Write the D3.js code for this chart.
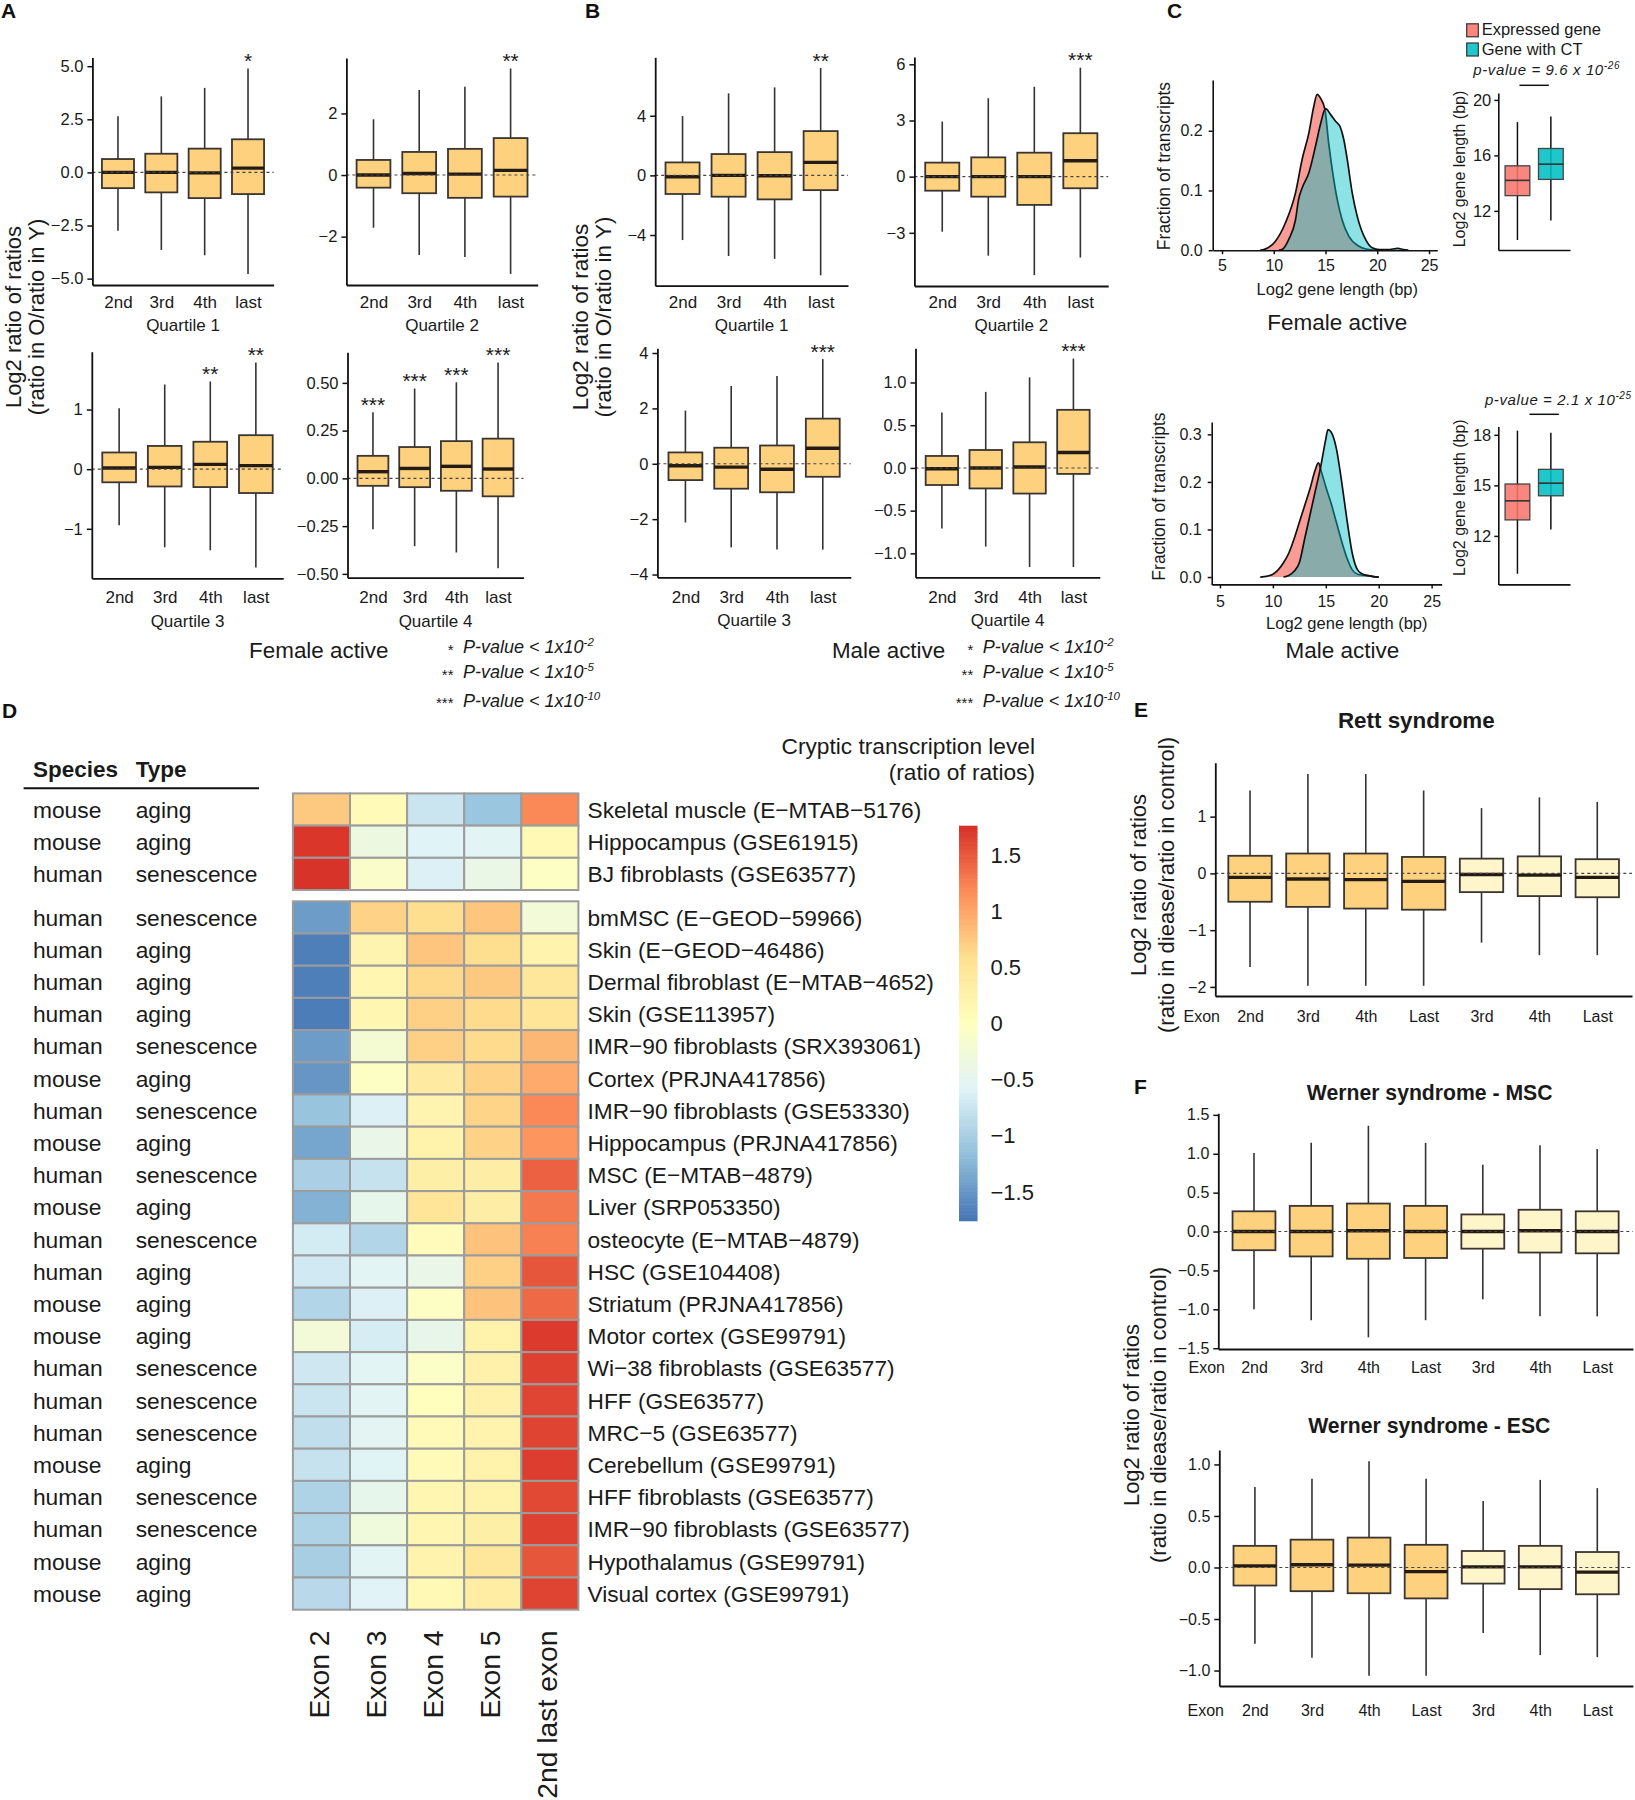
<!DOCTYPE html>
<html><head><meta charset="utf-8">
<script src="https://cdn.jsdelivr.net/npm/d3@7"></script>
<style>
body{margin:0;background:#fff;}
svg{font-family:"Liberation Sans",Arial,Helvetica,sans-serif;}
</style></head><body>
<svg id="fig" width="1635" height="1800"></svg>
<script>
// ================= DATA =================
// Panels A/B: box stats [lowerWhisker, Q1, median, Q3, upperWhisker]
const quartileCats = ["2nd", "3rd", "4th", "last"];
const femaleQ1 = [[-2.75,-0.74,0.00,0.63,2.64],[-3.65,-0.94,0.00,0.88,3.58],[-3.90,-1.21,-0.02,1.12,3.98],[-4.78,-1.02,0.20,1.56,4.89]];
const femaleQ2 = [[-1.71,-0.41,0.00,0.49,1.81],[-2.60,-0.59,0.05,0.75,2.76],[-2.66,-0.74,0.03,0.85,2.87],[-3.21,-0.70,0.15,1.20,3.46]];
const femaleQ3 = [[-0.94,-0.22,0.02,0.28,1.02],[-1.31,-0.29,0.03,0.39,1.42],[-1.36,-0.30,0.08,0.46,1.47],[-1.65,-0.40,0.06,0.57,1.79]];
const femaleQ4 = [[-0.267,-0.039,0.035,0.118,0.346],[-0.355,-0.046,0.052,0.164,0.470],[-0.388,-0.065,0.063,0.195,0.503],[-0.470,-0.094,0.049,0.208,0.606]];
const maleQ1 = [[-4.34,-1.25,-0.09,0.87,3.98],[-5.41,-1.43,0.00,1.43,5.50],[-5.60,-1.61,-0.03,1.56,5.90],[-6.70,-0.99,0.87,2.97,7.20]];
const maleQ2 = [[-2.94,-0.75,0.00,0.75,2.94],[-4.22,-1.07,0.00,1.03,4.19],[-5.26,-1.51,0.00,1.28,4.80],[-4.32,-0.62,0.85,2.32,5.82]];
const maleQ3 = [[-2.12,-0.59,-0.07,0.41,1.92],[-3.02,-0.90,-0.12,0.58,2.81],[-3.10,-1.03,-0.20,0.66,3.17],[-3.10,-0.47,0.56,1.63,3.78]];
const maleQ4 = [[-0.71,-0.20,-0.01,0.14,0.65],[-0.92,-0.24,0.00,0.21,0.89],[-1.16,-0.30,0.01,0.30,1.06],[-1.16,-0.07,0.18,0.68,1.28]];
const femaleStars = [["","","","*"],["","","","**"],["","","**","**"],["***","***","***","***"]];
const maleStars = [["","","","**"],["","","","***"],["","","","***"],["","","","***"]];
const quartileTitles = ["Quartile 1","Quartile 2","Quartile 3","Quartile 4"];
const pLegendStars = ["*","**","***"];
const pLegendExp = ["-2","-5","-10"];

// Panel C: density curves [log2 length, fraction]
const femaleExprDensity = [[8.7,0],[9.03,0.001],[10.16,0.015],[11.13,0.046],[12.1,0.096],[12.74,0.152],[13.4,0.197],[13.87,0.241],[14.19,0.261],[14.5,0.255],[14.94,0.236],[15.3,0.18],[15.65,0.135],[16.13,0.085],[16.6,0.051],[17.26,0.023],[18.2,0.007],[18.9,0.002],[20,0]];
const femaleCTDensity = [[10.5,0],[10.8,0.001],[11.45,0.018],[12.1,0.051],[12.4,0.085],[12.74,0.104],[13.4,0.13],[14.03,0.174],[14.5,0.21],[15,0.237],[15.5,0.227],[15.97,0.216],[16.45,0.205],[16.77,0.185],[17.1,0.152],[17.58,0.096],[18.06,0.057],[18.87,0.018],[19.5,0.004],[20.2,0.001],[21,0.001],[22,0.003],[22.5,0.001],[23,0]];
const maleExprDensity = [[8.8,0],[9.5,0.002],[10,0.006],[10.5,0.015],[11,0.03],[11.5,0.05],[12,0.08],[12.5,0.115],[13,0.15],[13.5,0.185],[14,0.225],[14.3,0.24],[14.6,0.22],[15,0.19],[15.5,0.155],[16,0.115],[16.5,0.075],[17,0.04],[17.5,0.015],[18,0.006],[18.5,0.004],[19,0.003],[19.5,0.001],[20,0]];
const maleCTDensity = [[11,0],[11.5,0.003],[12,0.012],[12.5,0.03],[13,0.08],[13.5,0.13],[14,0.18],[14.5,0.23],[15,0.29],[15.2,0.31],[15.5,0.305],[16,0.27],[16.5,0.2],[17,0.12],[17.5,0.05],[18,0.015],[18.5,0.006],[19,0.003],[19.5,0.001],[20,0]];
const geneGroups = ["Expressed gene","Gene with CT"];
const femaleLengthBox = [[9.9,13.1,14.2,15.25,18.4],[11.3,14.27,15.37,16.5,18.8]];
const maleLengthBox = [[9.75,12.95,14.08,15.08,18.25],[12.38,14.38,15.13,15.95,18.12]];
const pValueBase = ["p-value = 9.6 x 10","p-value = 2.1 x 10"];
const pValueExp = ["-26","-25"];

// Panel D: heatmap
const hmColumns = ["Exon 2","Exon 3","Exon 4","Exon 5","2nd last exon"];
const hmSamples = ["Skeletal muscle (E\u2212MTAB\u22125176)","Hippocampus (GSE61915)","BJ fibroblasts (GSE63577)",
 "bmMSC (E\u2212GEOD\u221259966)","Skin (E\u2212GEOD\u221246486)","Dermal fibroblast (E\u2212MTAB\u22124652)","Skin (GSE113957)",
 "IMR\u221290 fibroblasts (SRX393061)","Cortex (PRJNA417856)","IMR\u221290 fibroblasts (GSE53330)","Hippocampus (PRJNA417856)",
 "MSC (E\u2212MTAB\u22124879)","Liver (SRP053350)","osteocyte (E\u2212MTAB\u22124879)","HSC (GSE104408)","Striatum (PRJNA417856)",
 "Motor cortex (GSE99791)","Wi\u221238 fibroblasts (GSE63577)","HFF (GSE63577)","MRC\u22125 (GSE63577)","Cerebellum (GSE99791)",
 "HFF fibroblasts (GSE63577)","IMR\u221290 fibroblasts (GSE63577)","Hypothalamus (GSE99791)","Visual cortex (GSE99791)"];
const hmSpecies = ["mouse","mouse","human","human","human","human","human","human","mouse","human","mouse","human","mouse","human","human","mouse","mouse","human","human","human","mouse","human","human","mouse","mouse"];
const hmType = ["aging","aging","senescence","senescence","aging","aging","aging","senescence","aging","senescence","aging","senescence","aging","senescence","aging","aging","aging","senescence","senescence","senescence","aging","senescence","senescence","aging","aging"];
const hmValues = [
 [0.75,0.10,-0.75,-1.10,1.20],
 [1.72,-0.35,-0.58,-0.55,0.12],
 [1.74,-0.10,-0.62,-0.40,-0.05],
 [-1.45,0.68,0.60,0.78,-0.25],
 [-1.68,0.20,0.78,0.60,0.22],
 [-1.68,0.17,0.64,0.75,0.45],
 [-1.70,0.17,0.70,0.62,0.50],
 [-1.45,-0.20,0.70,0.62,0.88],
 [-1.50,-0.05,0.38,0.68,0.97],
 [-1.12,-0.62,0.20,0.67,1.20],
 [-1.38,-0.42,0.25,0.68,1.12],
 [-0.98,-0.78,0.30,0.33,1.45],
 [-1.28,-0.45,0.50,0.33,1.30],
 [-0.68,-0.92,0.05,0.80,1.25],
 [-0.70,-0.55,-0.42,0.70,1.52],
 [-0.93,-0.62,-0.05,0.80,1.40],
 [-0.25,-0.66,-0.43,0.25,1.70],
 [-0.72,-0.55,-0.07,0.27,1.65],
 [-0.75,-0.55,0.02,0.27,1.63],
 [-0.82,-0.52,0.10,0.22,1.64],
 [-0.78,-0.56,0.10,0.25,1.68],
 [-0.95,-0.45,0.17,0.25,1.60],
 [-0.96,-0.30,0.17,0.30,1.65],
 [-1.00,-0.55,0.22,0.45,1.52],
 [-0.88,-0.57,0.12,0.35,1.64]];
const hmGroup1Size = 3;
const hmRange = [-1.76, 1.76];
const hmLegendTicks = [1.5,1,0.5,0,-0.5,-1,-1.5];
const hmPalette = ["#4575B4","#91BFDB","#E0F3F8","#FFFFBF","#FEE090","#FC8D59","#D73027"];

// Panels E/F
const diseaseCats = ["2nd","3rd","4th","Last","3rd","4th","Last"];
const rettBoxes = [[-1.65,-0.50,-0.07,0.31,1.46],[-1.98,-0.59,-0.10,0.35,1.75],[-1.98,-0.62,-0.11,0.35,1.75],[-1.98,-0.64,-0.14,0.29,1.46],[-1.22,-0.33,-0.02,0.26,1.15],[-1.44,-0.40,-0.03,0.30,1.34],[-1.44,-0.42,-0.07,0.25,1.26]];
const wernerMSCBoxes = [[-1.00,-0.24,0.00,0.26,1.01],[-1.14,-0.32,0.00,0.33,1.14],[-1.36,-0.35,0.01,0.36,1.36],[-1.14,-0.34,0.00,0.33,1.14],[-0.87,-0.22,0.00,0.22,0.86],[-1.09,-0.27,0.01,0.28,1.11],[-1.09,-0.28,0.00,0.26,1.06]];
const wernerESCBoxes = [[-0.74,-0.175,0.016,0.21,0.78],[-0.875,-0.23,0.026,0.27,0.86],[-1.05,-0.25,0.023,0.29,1.03],[-1.05,-0.30,-0.04,0.22,0.86],[-0.635,-0.156,0.006,0.16,0.645],[-0.85,-0.21,0.006,0.21,0.85],[-0.87,-0.26,-0.045,0.15,0.77]];
const diseaseGroup = [0,0,0,0,1,1,1];

// ================= DRAWING =================
const svg = d3.select("#fig");
const TXT = "#1a1a1a";
const FONT = '"Liberation Sans", Arial, Helvetica, sans-serif';
const BOX_ORANGE = "#FED17F", BOX_LIGHT = "#FFF5CB";

function txt(g, x, y, s, o = {}) {
  const t = g.append("text").attr("x", x).attr("y", y).text(s)
    .attr("font-size", o.size || 16).attr("fill", o.fill || TXT)
    .attr("text-anchor", o.anchor || "start");
  if (o.weight) t.attr("font-weight", o.weight);
  if (o.style) t.attr("font-style", o.style);
  if (o.ls) t.attr("letter-spacing", o.ls);
  return t;
}
function vtxt(g, x, y, s, o = {}) {
  return txt(g, 0, 0, s, Object.assign({anchor: "middle"}, o)).attr("transform", `translate(${x},${y}) rotate(-90)`);
}
function styleAxis(sel, fs, lw) {
  sel.attr("font-family", null).attr("font-size", null);
  sel.select(".domain").attr("stroke", "#111").attr("stroke-width", lw || 1.8);
  sel.selectAll(".tick line").attr("stroke", "#111").attr("stroke-width", 1.5);
  sel.selectAll("text").attr("font-size", fs).attr("fill", TXT).attr("font-family", FONT);
}

function boxPanel(o) {
  const g = svg.append("g");
  const y = d3.scaleLinear().domain(o.domain).range([o.yBot, o.yTop]);
  const x = d3.scalePoint().domain(d3.range(o.cats.length)).range([o.x0, o.x1]).padding(o.pad);
  const bw = x.step() * o.boxFrac;
  const items = o.data.map((d, i) => ({i, lo: d[0], q1: d[1], med: d[2], q3: d[3], hi: d[4]}));
  g.selectAll("line.wh").data(items).join("line").attr("class", "wh")
    .attr("x1", d => x(d.i)).attr("x2", d => x(d.i)).attr("y1", d => y(d.lo)).attr("y2", d => y(d.hi))
    .attr("stroke", "#333").attr("stroke-width", 1.6);
  g.selectAll("rect.bx").data(items).join("rect").attr("class", "bx")
    .attr("x", d => x(d.i) - bw / 2).attr("width", bw)
    .attr("y", d => y(d.q3)).attr("height", d => y(d.q1) - y(d.q3))
    .attr("fill", d => o.fills ? o.fills[d.i] : BOX_ORANGE).attr("stroke", "#3a3530").attr("stroke-width", 1.8);
  g.selectAll("line.md").data(items).join("line").attr("class", "md")
    .attr("x1", d => x(d.i) - bw / 2).attr("x2", d => x(d.i) + bw / 2).attr("y1", d => y(d.med)).attr("y2", d => y(d.med))
    .attr("stroke", "#241c14").attr("stroke-width", 3.4);
  g.append("line").attr("x1", o.x0).attr("x2", o.x1).attr("y1", y(0)).attr("y2", y(0))
    .attr("stroke", "#444").attr("stroke-width", 1.1).attr("stroke-dasharray", "3,3");
  const ya = g.append("g").attr("transform", `translate(${o.x0},0)`)
    .call(d3.axisLeft(y).tickValues(o.ticks).tickFormat(d3.format(o.fmt)).tickSize(5).tickSizeOuter(0).tickPadding(o.tickPad || 4));
  styleAxis(ya, o.tickFont);
  const xa = g.append("g").attr("transform", `translate(0,${o.yBot})`)
    .call(d3.axisBottom(x).tickSize(0).tickSizeOuter(0).tickPadding(o.xpad).tickFormat(i => o.cats[i]));
  styleAxis(xa, o.catFont);
  if (o.stars) {
    items.forEach(d => { if (o.stars[d.i]) txt(g, x(d.i), y(d.hi) - 0.5, o.stars[d.i], {size: 21, anchor: "middle"}); });
  }
  if (o.title) txt(g, (o.x0 + o.x1) / 2, o.titleY, o.title, {size: 17, anchor: "middle"});
  if (o.exonX) txt(g, o.exonX, o.yBot + o.xpad + 0.71 * o.catFont, "Exon", {size: o.catFont, anchor: "middle"});
  if (o.heading) txt(g, o.heading[0], o.heading[1], o.heading[2], {size: o.heading[3], weight: "bold", anchor: "middle"});
  return g;
}

// ---------- Panel letters ----------
[["A",1,17.5],["B",585,17.5],["C",1167,17.5],["D",2,717.5],["E",1134,716.5],["F",1134,1093.5]].forEach(([l,x,y]) =>
  txt(svg, x, y, l, {size: 21, weight: "bold", fill: "#111"}));

// ---------- Panels A & B ----------
const abLayout = {
  female: [
    {x0:92.4, x1:273.6, yTop:57.5, yBot:285, domain:[-5.3,5.41], ticks:[-5,-2.5,0,2.5,5], fmt:".1f", pad:0.59, xpad:11.2, titleY:331},
    {x0:346.4, x1:537.7, yTop:58, yBot:285, domain:[-3.57,3.8], ticks:[-2,0,2], fmt:"d", pad:0.593, xpad:11.2, titleY:331},
    {x0:91.8, x1:283.2, yTop:351.7, yBot:578.3, domain:[-1.83,1.97], ticks:[-1,0,1], fmt:"d", pad:0.6, xpad:13, titleY:627},
    {x0:347.5, x1:523.5, yTop:352.3, yBot:577.7, domain:[-0.52,0.66], ticks:[-0.5,-0.25,0,0.25,0.5], fmt:".2f", pad:0.61, xpad:13.5, titleY:627}],
  male: [
    {x0:655.2, x1:848.0, yTop:57.3, yBot:285.7, domain:[-7.4,7.92], ticks:[-4,0,4], fmt:"d", pad:0.594, xpad:10.6, titleY:331},
    {x0:914.4, x1:1108.2, yTop:57, yBot:286, domain:[-5.84,6.39], ticks:[-3,0,3,6], fmt:"d", pad:0.605, xpad:10.4, titleY:331},
    {x0:657.4, x1:850.8, yTop:348.3, yBot:577.3, domain:[-4.1,4.17], ticks:[-4,-2,0,2,4], fmt:"d", pad:0.612, xpad:13.5, titleY:626},
    {x0:915.5, x1:1099.8, yTop:348.3, yBot:577.3, domain:[-1.28,1.40], ticks:[-1,-0.5,0,0.5,1], fmt:".1f", pad:0.602, xpad:13.5, titleY:626}]
};
const femaleData = [femaleQ1, femaleQ2, femaleQ3, femaleQ4];
const maleData = [maleQ1, maleQ2, maleQ3, maleQ4];
abLayout.female.forEach((L, k) => boxPanel(Object.assign({}, L, {cats: quartileCats, data: femaleData[k], stars: femaleStars[k], title: quartileTitles[k], boxFrac: 0.74, tickFont: 16.5, catFont: 17})));
abLayout.male.forEach((L, k) => boxPanel(Object.assign({}, L, {cats: quartileCats, data: maleData[k], stars: maleStars[k], title: quartileTitles[k], boxFrac: 0.74, tickFont: 16.5, catFont: 17})));

// y labels A/B
vtxt(svg, 21, 317, "Log2 ratio of ratios", {size: 22});
vtxt(svg, 43.5, 317, "(ratio in O/ratio in Y)", {size: 22});
vtxt(svg, 587.5, 317, "Log2 ratio of ratios", {size: 22.5});
vtxt(svg, 610.5, 317, "(ratio in O/ratio in Y)", {size: 22.5});
txt(svg, 318.8, 658.3, "Female active", {size: 22.4, anchor: "middle"});
txt(svg, 888.6, 658.3, "Male active", {size: 22.4, anchor: "middle"});

function pLegend(xStar, xText, baselines) {
  pLegendStars.forEach((s, k) => {
    txt(svg, xStar, baselines[k] + 1.5, s, {size: 15, anchor: "end"});
    const t = txt(svg, xText, baselines[k], "P-value < 1x10", {size: 18, style: "italic"});
    t.append("tspan").attr("dy", -7).attr("font-size", 11.5).text(pLegendExp[k]);
  });
}
pLegend(453.5, 463, [653.3, 678.3, 706.5]);
pLegend(973.3, 982.8, [653.3, 678.3, 706.5]);

// ---------- Panel C ----------
const EXPR_COL = "#F8766D", CT_COL = "#00BFC4";
function densityPanel(o) {
  const g = svg.append("g");
  const x = d3.scaleLinear().domain(o.xDomain).range([o.x0, o.x1]);
  const y = d3.scaleLinear().domain(o.yDomain).range([o.yBot, o.yTop]);
  const area = d3.area().x(d => x(d[0])).y0(y(0)).y1(d => y(d[1])).curve(d3.curveMonotoneX);
  const line = d3.line().x(d => x(d[0])).y(d => y(d[1])).curve(d3.curveMonotoneX);
  [[o.expr, EXPR_COL, 0.72], [o.ct, CT_COL, 0.45]].forEach(([dat, col, op]) => {
    g.append("path").attr("d", area(dat)).attr("fill", col).attr("fill-opacity", op);
    g.append("path").attr("d", line(dat)).attr("fill", "none").attr("stroke", "#111").attr("stroke-width", 1.7);
  });
  const ya = g.append("g").attr("transform", `translate(${o.x0},0)`)
    .call(d3.axisLeft(y).tickValues(o.yTicks).tickFormat(d3.format(".1f")).tickSize(4).tickSizeOuter(0).tickPadding(6));
  styleAxis(ya, 16, 1.6);
  const xa = g.append("g").attr("transform", `translate(0,${o.yBot})`)
    .call(d3.axisBottom(x).tickValues([5,10,15,20,25]).tickFormat(d3.format("d")).tickSize(4).tickSizeOuter(0).tickPadding(o.xTickPad));
  styleAxis(xa, 16, 1.6);
  txt(g, o.xlab[0], o.xlab[1], "Log2 gene length (bp)", {size: 16.5, anchor: "middle"});
  vtxt(g, o.ylab[0], o.ylab[1], "Fraction of transcripts", {size: 17.5});
  txt(g, o.title[0], o.title[1], o.title[2], {size: 22.5, anchor: "middle"});
}
function lengthBox(o) {
  const g = svg.append("g");
  const y = d3.scaleLinear().domain(o.domain).range([o.yBot, o.yTop]);
  const x = d3.scalePoint().domain(geneGroups).range([o.x0, o.x1]).padding(0.573);
  const bw = x.step() * 0.74;
  const cols = [EXPR_COL, CT_COL];
  o.data.forEach((d, i) => {
    const cx = x(geneGroups[i]);
    g.append("line").attr("x1", cx).attr("x2", cx).attr("y1", y(d[0])).attr("y2", y(d[4])).attr("stroke", "#111").attr("stroke-width", 1.5);
    g.append("rect").attr("x", cx - bw / 2).attr("width", bw).attr("y", y(d[3])).attr("height", y(d[1]) - y(d[3]))
      .attr("fill", cols[i]).attr("fill-opacity", 0.88).attr("stroke", "#444").attr("stroke-width", 1.3);
    g.append("line").attr("x1", cx - bw / 2).attr("x2", cx + bw / 2).attr("y1", y(d[2])).attr("y2", y(d[2])).attr("stroke", "#333").attr("stroke-width", 1.6);
  });
  const ya = g.append("g").attr("transform", `translate(${o.x0},0)`)
    .call(d3.axisLeft(y).tickValues(o.ticks).tickFormat(d3.format("d")).tickSize(4).tickSizeOuter(0).tickPadding(3));
  styleAxis(ya, 16.5, 1.6);
  const xa = g.append("g").attr("transform", `translate(0,${o.yBot})`).call(d3.axisBottom(x).tickValues([]).tickSizeOuter(0));
  styleAxis(xa, 10, 1.6);
  vtxt(g, o.ylab[0], o.ylab[1], "Log2 gene length (bp)", {size: 16});
  const c0 = x(geneGroups[0]), c1 = x(geneGroups[1]);
  g.append("line").attr("x1", c0 + o.sig[0]).attr("x2", c1 + o.sig[1]).attr("y1", o.sig[2]).attr("y2", o.sig[2]).attr("stroke", "#111").attr("stroke-width", 1.5);
  const t = txt(g, o.pText[0], o.pText[1], o.pText[2], {size: 15, style: "italic", anchor: "middle", ls: 0.6});
  t.append("tspan").attr("dy", -6).attr("font-size", 10).text(o.pText[3]);
}
densityPanel({x0: 1212.7, x1: 1437.3, xDomain: [4.1, 25.8], yTop: 80, yBot: 250.2, yDomain: [0, 0.285], yTicks: [0, 0.1, 0.2], xTickPad: 5.4,
  expr: femaleExprDensity, ct: femaleCTDensity, xlab: [1337.3, 295], ylab: [1170, 166], title: [1337.3, 330.4, "Female active"]});
densityPanel({x0: 1211.7, x1: 1441.7, xDomain: [4.22, 25.95], yTop: 422, yBot: 584.4, yDomain: [-0.0155, 0.326], yTicks: [0, 0.1, 0.2, 0.3], xTickPad: 7.2,
  expr: maleExprDensity, ct: maleCTDensity, xlab: [1346.8, 629], ylab: [1164.5, 496.5], title: [1342.3, 658.3, "Male active"]});
lengthBox({x0: 1498.3, x1: 1570, yTop: 93, yBot: 250, domain: [9.18, 20.5], ticks: [12, 16, 20], data: femaleLengthBox,
  ylab: [1465, 169], sig: [2, -2, 85.3], pText: [1546.7, 74.5, pValueBase[0], pValueExp[0]]});
lengthBox({x0: 1498.3, x1: 1570, yTop: 426.4, yBot: 584.4, domain: [9.12, 18.5], ticks: [12, 15, 18], data: maleLengthBox,
  ylab: [1465, 497.6], sig: [12, 8, 414.3], pText: [1558.3, 404.5, pValueBase[1], pValueExp[1]]});
// legend C
[[EXPR_COL, 23.8, 35.4], [CT_COL, 43, 55]].forEach(([c, yb, yt], k) => {
  svg.append("rect").attr("x", 1466.7).attr("y", yb).attr("width", 11.6).attr("height", 13).attr("fill", c).attr("fill-opacity", 0.88).attr("stroke", "#333").attr("stroke-width", 1.2);
  txt(svg, 1481.7, yt, geneGroups[k], {size: 16.5});
});

// ---------- Panel D ----------
const gD = svg.append("g");
txt(gD, 32.9, 777.3, "Species", {size: 22.5, weight: "bold"});
txt(gD, 135.7, 777.3, "Type", {size: 22.5, weight: "bold"});
gD.append("line").attr("x1", 23.6).attr("x2", 259).attr("y1", 788.3).attr("y2", 788.3).attr("stroke", "#111").attr("stroke-width", 2);
const hx = d3.scaleBand().domain(hmColumns).range([292.9, 578.4]);
const hyBand = d3.scaleBand().domain(d3.range(hmSamples.length)).range([793.4, 793.4 + 32.2 * hmSamples.length]);
const hy = i => hyBand(i) + (i >= hmGroup1Size ? 11.3 : 0);
const hmColor = d3.scaleLinear().domain(d3.range(7).map(k => hmRange[0] + k * (hmRange[1] - hmRange[0]) / 6)).range(hmPalette).interpolate(d3.interpolateRgb);
hmValues.forEach((row, i) => {
  row.forEach((v, j) => {
    gD.append("rect").attr("x", hx(hmColumns[j])).attr("y", hy(i)).attr("width", hx.bandwidth()).attr("height", hyBand.bandwidth())
      .attr("fill", hmColor(v)).attr("stroke", "#9c9c9c").attr("stroke-width", 2);
  });
  const by = hy(i) + hyBand.bandwidth() / 2 + 8.2;
  txt(gD, 32.9, by, hmSpecies[i], {size: 22.8});
  txt(gD, 135.7, by, hmType[i], {size: 22.8});
  txt(gD, 587.5, by, hmSamples[i], {size: 22.7});
});
hmColumns.forEach(c => {
  txt(gD, 0, 0, c, {size: 28.3, anchor: "end"}).attr("transform", `translate(${hx(c) + hx.bandwidth() / 2 + 7.5},1630.5) rotate(-90)`);
});
// colour bar
const cbY = d3.scaleLinear().domain(hmRange).range([1221, 826]);
const nStep = 120, stepV = (hmRange[1] - hmRange[0]) / nStep;
d3.range(nStep).forEach(k => {
  const v0 = hmRange[0] + k * stepV;
  gD.append("rect").attr("x", 959).attr("width", 18.5).attr("y", cbY(v0 + stepV) - 0.3).attr("height", cbY(v0) - cbY(v0 + stepV) + 0.6)
    .attr("fill", hmColor(v0 + stepV / 2));
});
hmLegendTicks.forEach(t => txt(gD, 990.5, cbY(t) + 7.7, d3.format("")(t), {size: 22}));
txt(gD, 1035, 753.5, "Cryptic transcription level", {size: 22.7, anchor: "end"});
txt(gD, 1035, 779.5, "(ratio of ratios)", {size: 22.7, anchor: "end"});

// ---------- Panels E & F ----------
const dFills = diseaseGroup.map(g => g ? BOX_LIGHT : BOX_ORANGE);
boxPanel({x0: 1215.3, x1: 1632, yTop: 762.7, yBot: 996, domain: [-2.16, 1.95], ticks: [-2, -1, 0, 1], fmt: "d", pad: 0.6, boxFrac: 0.75,
  xpad: 14.3, cats: diseaseCats, data: rettBoxes, fills: dFills, tickFont: 16, catFont: 16, exonX: 1201.7, heading: [1416.3, 727.7, "Rett syndrome", 22.4]});
boxPanel({x0: 1218.3, x1: 1632.9, yTop: 1113.3, yBot: 1349, domain: [-1.51, 1.52], ticks: [-1.5, -1, -0.5, 0, 0.5, 1, 1.5], fmt: ".1f", pad: 0.624, boxFrac: 0.75,
  xpad: 12.6, cats: diseaseCats, data: wernerMSCBoxes, fills: dFills, tickFont: 16, catFont: 16, exonX: 1206.7, heading: [1429.7, 1100, "Werner syndrome - MSC", 21.2]});
boxPanel({x0: 1219.3, x1: 1632.9, yTop: 1450, yBot: 1686, domain: [-1.15, 1.14], ticks: [-1, -0.5, 0, 0.5, 1], fmt: ".1f", pad: 0.624, boxFrac: 0.75,
  xpad: 19, cats: diseaseCats, data: wernerESCBoxes, fills: dFills, tickFont: 16, catFont: 16, exonX: 1205.7, heading: [1429.3, 1433.3, "Werner syndrome - ESC", 21.2]});
vtxt(svg, 1145.5, 885, "Log2 ratio of ratios", {size: 22});
vtxt(svg, 1173.5, 885, "(ratio in diease/ratio in control)", {size: 22});
vtxt(svg, 1138.5, 1415, "Log2 ratio of ratios", {size: 22});
vtxt(svg, 1165.5, 1415, "(ratio in diease/ratio in control)", {size: 22});
</script></body></html>
